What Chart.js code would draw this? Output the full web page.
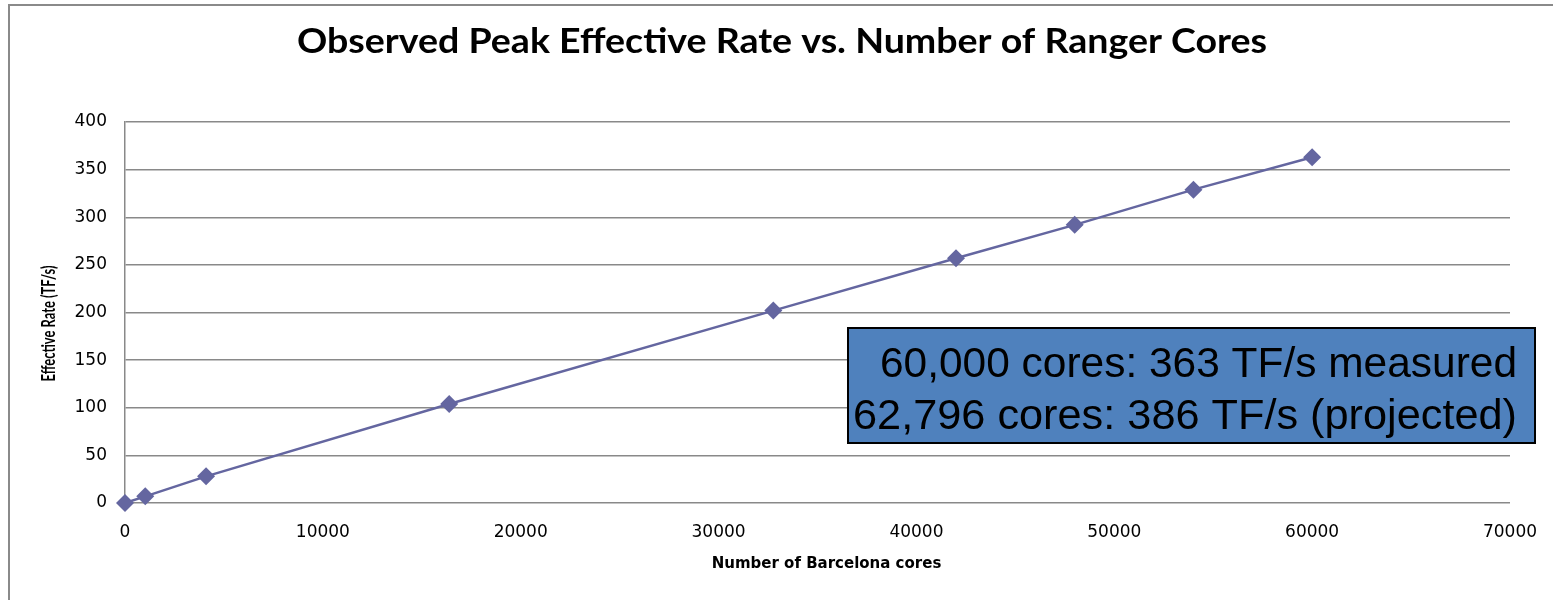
<!DOCTYPE html>
<html lang="en">
<head>
    <meta charset="UTF-8">
    <title>Observed Peak Effective Rate vs. Number of Ranger Cores</title>
    <script src="https://cdn.jsdelivr.net/npm/chart.js"></script>
    <style>
        body { margin: 0; background: #fff; overflow: hidden; }
        canvas { display: block; }
    </style>
</head>
<body>
<canvas id="rateChart" width="1553" height="600"></canvas>

<script>
    // Measured runs: Barcelona cores vs. effective rate (TF/s)
    const cores = [0, 1024, 4096, 16384, 32768, 42000, 48000, 54000, 60000];
    const rates = [0, 7, 28, 104, 202, 257, 292, 329, 363];

    const xTicks = [0, 10000, 20000, 30000, 40000, 50000, 60000, 70000];
    const yTicks = [0, 50, 100, 150, 200, 250, 300, 350, 400];

    const chartTitle = "Observed Peak Effective Rate vs. Number of Ranger Cores";
    const xTitle = "Number of Barcelona cores";
    const yTitle = "Effective Rate (TF/s)";
    const noteLines = ["60,000 cores: 363 TF/s measured", "62,796 cores: 386 TF/s (projected)"];

    const lineColor = "#6466a0";
    const gridColor = "#898989";

    // draw a string squeezed horizontally to a given width
    function fitText(ctx, text, x, y, width, angle) {
        const w = ctx.measureText(text).width;
        ctx.save();
        ctx.translate(x, y);
        if (angle) ctx.rotate(angle);
        ctx.scale(width / w, 1);
        ctx.fillText(text, 0, 0);
        ctx.restore();
    }

    const decorations = {
        id: "decorations",
        beforeDraw(chart) {
            const ctx = chart.ctx;
            ctx.save();
            ctx.fillStyle = "#fff";
            ctx.fillRect(0, 0, chart.width, chart.height);
            // outer frame of the chart object
            ctx.strokeStyle = "#8a8a8a";
            ctx.lineWidth = 2;
            ctx.strokeRect(9, 5, 2000, 2000);
            ctx.restore();
        },
        afterDatasetsDraw(chart) {
            const ctx = chart.ctx;
            const area = chart.chartArea;
            ctx.save();
            ctx.fillStyle = "#000";
            ctx.textBaseline = "middle";
            ctx.textAlign = "center";

            // main title
            ctx.font = "bold 35px Lato";
            fitText(ctx, chartTitle, 782, 42, 970);

            // x axis title
            ctx.font = "bold 15px 'DejaVu Sans'";
            ctx.fillText(xTitle, (area.left + area.right) / 2 + 9, 564);

            // y axis title
            ctx.font = "bold 18px Lato";
            fitText(ctx, yTitle, 49, (area.top + area.bottom) / 2 + 11, 116, -Math.PI / 2);

            // note box
            const bx = 848, by = 328, bw = 687, bh = 115;
            ctx.fillStyle = "#4f81bd";
            ctx.fillRect(bx, by, bw, bh);
            ctx.strokeStyle = "#000";
            ctx.lineWidth = 2;
            ctx.strokeRect(bx, by, bw, bh);
            ctx.fillStyle = "#000";
            ctx.textAlign = "right";
            ctx.font = "42px 'Liberation Sans'";
            fitText(ctx, noteLines[0], 1517, 365, 637);
            fitText(ctx, noteLines[1], 1517, 417, 664);
            ctx.restore();
        }
    };

    new Chart(document.getElementById("rateChart"), {
        type: "scatter",
        data: {
            datasets: [{
                label: "Effective Rate",
                data: cores.map((c, i) => ({ x: c, y: rates[i] })),
                showLine: true,
                clip: false,
                borderColor: lineColor,
                backgroundColor: lineColor,
                borderWidth: 2.5,
                pointStyle: "rectRot",
                pointRadius: 9,
                pointHoverRadius: 9,
                pointBorderWidth: 0
            }]
        },
        options: {
            responsive: false,
            animation: false,
            devicePixelRatio: 1,
            layout: { padding: { left: 0, right: 43, top: 122, bottom: 0 } },
            plugins: {
                legend: { display: false },
                title: { display: false },
                tooltip: { enabled: false }
            },
            scales: {
                x: {
                    type: "linear",
                    min: 0,
                    max: 70000,
                    afterBuildTicks: s => { s.ticks = xTicks.map(v => ({ value: v })); },
                    afterFit: s => { s.height = 97; },
                    grid: { display: false },
                    border: { display: false },
                    ticks: {
                        color: "#000",
                        padding: 11,
                        maxRotation: 0,
                        font: { family: "DejaVu Sans", size: 17 },
                        callback: v => String(v)
                    }
                },
                y: {
                    min: 0,
                    max: 400,
                    afterBuildTicks: s => { s.ticks = yTicks.map(v => ({ value: v })); },
                    afterFit: s => { s.width = 125; },
                    grid: { color: gridColor, lineWidth: 1.5, drawTicks: false },
                    border: { display: true, color: gridColor, width: 1.5 },
                    ticks: {
                        color: "#000",
                        padding: 18,
                        font: { family: "DejaVu Sans", size: 17 },
                        callback: v => String(v)
                    }
                }
            }
        },
        plugins: [decorations]
    });
</script>
</body>
</html>
